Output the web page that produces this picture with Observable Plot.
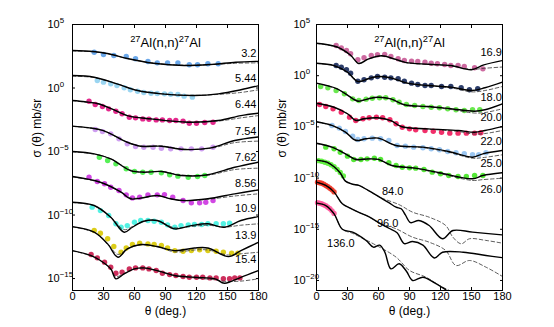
<!DOCTYPE html>
<html>
<head>
<meta charset="utf-8">
<script src="https://cdn.jsdelivr.net/npm/d3@7"></script>
<script src="https://cdn.jsdelivr.net/npm/@observablehq/plot@0.6"></script>
<style>
  html, body { margin: 0; padding: 0; background: #fff; }
  #chart { display: flex; width: 554px; height: 327px; }
</style>
</head>
<body>
<div id="chart"></div>
<script>
// ---- angles in degrees, cross sections as log10(sigma / mb/sr) ----
// LEFT PANEL
const L32 = { label: "3.2", color: "#5b9ee8",
  solidT: [0,20,35,53,78,108,135,158,180], solidL: [2.95,2.87,2.70,2.32,1.95,1.77,1.86,2.03,2.10],
  dashT:  [0,20,35,53,78,108,135,158,180], dashL:  [2.92,2.85,2.68,2.32,1.97,1.79,1.84,1.95,1.98],
  dataT: [21,30,40,52,61,73,82,92,102,113,121,131,141],
  dataL: [2.82,2.64,2.56,2.48,2.30,2.09,1.98,1.98,1.98,1.83,1.83,1.91,1.91] };
const L544 = { label: "5.44", color: "#8fd0f0",
  solidT: [0,21,43,63,86,118,141,163,180], solidL: [0.98,0.85,0.33,-0.20,-0.46,-0.59,-0.46,-0.14,0.18],
  dashT:  [0,21,43,63,86,118,141,163,180], dashL:  [0.93,0.82,0.33,-0.18,-0.44,-0.58,-0.50,-0.35,-0.14],
  dataT: [24,30,37,43,50,56,63,69,76,82,89,95,102,108,116],
  dataL: [0.59,0.46,0.33,0.20,0.02,-0.14,-0.25,-0.35,-0.41,-0.43,-0.46,-0.49,-0.51,-0.64,-0.72] };
const L644 = { label: "6.44", color: "#e0117f",
  solidT: [0,12,25,38,53,76,112,141,163,180], solidL: [-0.98,-1.08,-1.24,-1.64,-2.17,-2.43,-2.69,-2.56,-2.17,-1.98],
  dashT:  [0,12,25,38,53,76,112,141,163,180], dashL:  [-1.00,-1.10,-1.26,-1.64,-2.17,-2.43,-2.69,-2.60,-2.35,-2.17],
  dataT: [16,22,29,35,42,48,55,61,68,74,81,87,94,100,107,113,120,128,136],
  dataL: [-1.04,-1.30,-1.46,-1.64,-1.83,-2.03,-2.30,-2.35,-2.43,-2.46,-2.51,-2.51,-2.56,-2.56,-2.61,-2.77,-2.77,-2.72,-2.69] };
const L754 = { label: "7.54", color: "#c994ee",
  solidT: [0,15,30,53,66,86,108,134,157,180], solidL: [-3.00,-3.12,-3.35,-4.27,-4.58,-4.58,-4.84,-4.71,-4.13,-3.85],
  dashT:  [0,15,30,53,66,86,108,134,157,180], dashL:  [-3.02,-3.14,-3.37,-4.27,-4.56,-4.56,-4.82,-4.74,-4.30,-4.18],
  dataT: [22,29,37,45,53,61,69,78,86,95,105,115,125,136],
  dataL: [-3.27,-3.43,-3.61,-4.00,-4.39,-4.61,-4.66,-4.66,-4.74,-4.79,-4.79,-4.79,-4.79,-4.66] };
const L762 = { label: "7.62", color: "#44ee44",
  solidT: [0,21,37,56,69,86,105,131,157,180], solidL: [-5.00,-5.18,-5.57,-6.50,-6.63,-6.57,-6.89,-6.83,-6.24,-5.84],
  dashT:  [0,21,37,56,69,86,105,131,157,180], dashL:  [-5.03,-5.20,-5.57,-6.45,-6.60,-6.57,-6.85,-6.86,-6.42,-6.31],
  dataT: [26,34,42,52,60,68,76,86,94,102,112,121,128],
  dataL: [-5.45,-5.71,-5.97,-6.36,-6.57,-6.63,-6.63,-6.68,-6.83,-6.94,-7.02,-6.97,-6.89] };
const L856 = { label: "8.56", color: "#cc33e0",
  solidT: [0,27,47,56,66,82,95,108,131,157,180], solidL: [-6.97,-7.42,-8.20,-8.72,-8.67,-8.46,-8.72,-8.86,-8.72,-8.33,-8.02],
  dashT:  [0,27,47,56,66,82,95,108,131,157,180], dashL:  [-7.00,-7.44,-8.20,-8.65,-8.65,-8.48,-8.72,-8.86,-8.76,-8.50,-8.33],
  dataT: [16,24,31,37,45,52,58,65,73,82,89,97,107,115,123,129,136],
  dataL: [-7.02,-7.36,-7.54,-7.81,-8.07,-8.41,-8.65,-8.60,-8.41,-8.41,-8.39,-8.60,-8.86,-9.04,-9.04,-8.99,-8.86] };
const L109 = { label: "10.9", color: "#40f0e0",
  solidT: [0,21,37,50,58,69,82,99,115,131,147,163,180], solidL: [-8.99,-9.25,-10.17,-11.35,-10.96,-10.49,-10.43,-11.09,-10.83,-10.69,-10.96,-10.43,-10.12],
  dashT:  [0,21,37,50,58,69,82,99,115,131,147,163,180], dashL:  [-9.02,-9.27,-10.17,-11.15,-10.90,-10.49,-10.45,-11.00,-10.90,-10.80,-10.95,-10.80,-10.69],
  dataT: [19,27,35,42,47,53,60,66,73,79,86,92,99,105,112,118,125,131,139,146,152],
  dataL: [-9.38,-9.65,-10.04,-10.69,-10.96,-10.83,-10.57,-10.43,-10.43,-10.49,-10.57,-10.77,-10.96,-10.83,-10.77,-10.75,-10.75,-10.69,-10.69,-10.69,-10.64] };
const L139 = { label: "13.9", color: "#d8c800",
  solidT: [0,21,34,44,53,66,82,99,118,131,151,163,180], solidL: [-10.91,-11.35,-12.27,-13.32,-12.66,-12.32,-12.48,-12.80,-12.59,-12.59,-13.27,-12.80,-12.14],
  dashT:  [0,21,34,44,53,66,82,99,118,131,151,163,180], dashL:  [-10.94,-11.37,-12.27,-13.10,-12.66,-12.35,-12.50,-12.90,-12.75,-12.75,-13.15,-13.05,-12.93],
  dataT: [21,27,34,40,47,52,58,65,73,79,86,92,99,107,115,123,131,139,146,154,160],
  dataL: [-11.22,-11.43,-11.87,-12.48,-12.93,-12.59,-12.32,-12.22,-12.27,-12.32,-12.40,-12.59,-12.80,-12.85,-12.80,-12.74,-12.80,-12.85,-12.93,-13.01,-13.01] };
const L154 = { label: "15.4", color: "#c8184a",
  solidT: [0,18,27,37,42,50,60,69,82,99,118,138,147,163,180], solidL: [-12.80,-13.19,-13.58,-14.24,-15.02,-14.63,-14.24,-14.16,-14.37,-14.76,-14.90,-15.02,-15.37,-14.90,-14.37],
  dashT:  [0,18,27,37,42,50,60,69,82,99,118,138,147,163,180], dashL:  [-12.83,-13.20,-13.60,-14.24,-14.85,-14.60,-14.24,-14.18,-14.40,-14.80,-14.95,-15.10,-15.22,-15.20,-15.02],
  dataT: [18,24,31,37,42,48,55,61,68,74,81,87,94,100,107,113,120,126,133,139,146,152,157,162],
  dataL: [-13.11,-13.37,-13.71,-14.11,-14.58,-14.50,-14.24,-14.16,-14.16,-14.24,-14.37,-14.58,-14.69,-14.76,-14.84,-14.90,-14.90,-14.90,-14.95,-14.95,-15.02,-15.02,-14.95,-14.95] };

// RIGHT PANEL
const R169 = { label: "16.9", color: "#c85a96",
  solidT: [0,20,33,41,50,63,75,86,108,130,150,162,180], solidL: [3.17,2.80,2.00,1.18,1.62,1.95,1.65,1.30,1.12,0.99,0.58,1.05,1.48],
  dashT:  [0,20,33,41,50,63,75,86,108,130,150,162,180], dashL:  [3.15,2.78,2.00,1.25,1.62,1.93,1.63,1.28,1.10,0.95,0.62,0.72,0.85],
  dataT: [19,24,29,33,40,46,53,59,66,72,79,85,92,98,105,111,117,124,130,137,143,153,161],
  dataL: [2.95,2.72,2.46,2.14,1.55,1.75,1.97,2.04,2.07,1.88,1.65,1.48,1.42,1.39,1.32,1.22,1.16,1.09,0.99,0.99,0.90,0.77,0.67] };
const R180 = { label: "18.0", color: "#15285a",
  solidT: [0,17,30,40,50,59,72,88,108,130,150,163,180], solidL: [1.22,0.99,0.34,-0.57,-0.30,-0.08,-0.21,-0.73,-0.96,-1.12,-1.45,-1.18,-0.63],
  dashT:  [0,17,30,40,50,59,72,88,108,130,150,163,180], dashL:  [1.20,0.97,0.34,-0.50,-0.30,-0.10,-0.23,-0.75,-0.98,-1.18,-1.58,-1.45,-1.05],
  dataT: [19,24,29,33,40,46,53,59,66,72,79,85,92,98,105,111,121,130,140,148,156],
  dataL: [0.99,0.83,0.58,0.24,-0.54,-0.40,-0.21,-0.08,-0.15,-0.21,-0.30,-0.54,-0.73,-0.86,-0.96,-0.96,-1.05,-1.05,-1.18,-1.38,-1.28] };
const R200 = { label: "20.0", color: "#5ae63c",
  solidT: [0,20,30,40,50,59,72,85,108,130,153,163,180], solidL: [-0.73,-1.28,-1.90,-2.49,-2.26,-2.10,-2.26,-2.84,-3.01,-3.23,-3.47,-3.33,-2.74],
  dashT:  [0,20,30,40,50,59,72,85,108,130,153,163,180], dashL:  [-0.75,-1.30,-1.90,-2.42,-2.26,-2.12,-2.28,-2.86,-3.05,-3.30,-3.65,-3.60,-3.23],
  dataT: [4,11,19,27,35,41,48,54,61,67,74,80,87,95,103,111,119,127,135,143,151,158],
  dataL: [-1.05,-1.18,-1.45,-1.77,-2.26,-2.42,-2.29,-2.20,-2.16,-2.16,-2.35,-2.59,-2.81,-2.91,-3.01,-3.08,-3.13,-3.23,-3.33,-3.40,-3.33,-3.33] };
const R220 = { label: "22.0", color: "#f0185a",
  solidT: [0,17,30,38,46,59,72,82,108,137,153,163,180], solidL: [-2.69,-3.08,-3.72,-4.38,-4.21,-4.11,-4.38,-4.96,-5.19,-5.35,-5.52,-5.35,-4.96],
  dashT:  [0,17,30,38,46,59,72,82,108,137,153,163,180], dashL:  [-2.71,-3.10,-3.72,-4.30,-4.21,-4.13,-4.40,-4.98,-5.22,-5.45,-5.70,-5.65,-5.35],
  dataT: [3,9,16,24,32,38,45,51,58,64,71,77,83,90,96,105,113,121,129,137,145,153,159],
  dataL: [-2.81,-3.01,-3.23,-3.56,-4.05,-4.38,-4.21,-4.11,-4.05,-4.11,-4.31,-4.70,-5.03,-5.19,-5.28,-5.35,-5.42,-5.52,-5.61,-5.61,-5.61,-5.61,-5.58] };
const R250 = { label: "25.0", color: "#90c0f0",
  solidT: [0,15,28,38,48,60,77,103,128,151,161,180], solidL: [-4.50,-4.86,-5.52,-6.33,-6.16,-6.10,-6.82,-6.98,-7.40,-7.96,-7.63,-7.30],
  dashT:  [0,15,28,38,48,60,77,103,128,151,161,180], dashL:  [-4.52,-4.88,-5.52,-6.25,-6.16,-6.12,-6.84,-7.02,-7.48,-8.06,-8.00,-7.72],
  dataT: [15,22,28,35,40,46,54,62,70,78,86,94,103,111,119,127,135,143,151,157,164],
  dataL: [-4.86,-5.12,-5.45,-5.91,-6.23,-6.16,-6.10,-6.16,-6.33,-6.82,-6.88,-6.98,-7.04,-7.14,-7.24,-7.40,-7.53,-7.63,-7.72,-7.72,-7.53] };
const R260 = { label: "26.0", color: "#44e622",
  solidT: [0,15,28,38,51,60,73,96,119,151,161,180], solidL: [-6.60,-6.98,-7.63,-8.18,-8.12,-8.18,-8.77,-9.03,-9.48,-10.07,-9.75,-9.48],
  dashT:  [0,15,28,38,51,60,73,96,119,151,161,180], dashL:  [-6.62,-7.00,-7.63,-8.12,-8.12,-8.20,-8.79,-9.07,-9.55,-10.23,-10.15,-10.01],
  dataT: [9,17,23,30,36,43,49,56,62,70,77,83,90,96,104,112,120,128,137,145,153,161],
  dataL: [-6.98,-7.14,-7.47,-7.86,-8.18,-8.18,-8.12,-8.06,-8.18,-8.51,-8.77,-8.94,-9.00,-9.03,-9.16,-9.42,-9.58,-9.75,-9.84,-9.84,-9.75,-9.75] };
const R840 = { label: "84.0", color: "#55ee33",
  solidT: [0,10,17,23,28,35,41,50,61,70,77,82,86,91,99,109,122,132,151,180],
  solidL: [-8.25,-8.45,-8.90,-9.50,-10.30,-10.60,-10.72,-11.20,-11.86,-12.40,-12.84,-13.00,-13.60,-14.35,-14.14,-14.63,-15.93,-15.12,-15.28,-15.55],
  dashT:  [0,10,17,23,28,35,41,50,61,80,93,109,125,132,140,148,164,180],
  dashL:  [-8.25,-8.45,-8.90,-9.50,-10.30,-10.60,-10.72,-11.20,-11.86,-12.60,-13.33,-13.82,-14.63,-15.77,-16.42,-15.93,-16.09,-16.36],
  dataT: [2,5,8,11,14,17,20,23,26],
  dataL: [-8.30,-8.35,-8.45,-8.55,-8.70,-8.90,-9.15,-9.45,-9.80] };
const R960 = { label: "96.0", color: "#ee3322",
  solidT: [0,9,17,25,33,41,51,61,70,78,85,93,103,114,122,142,164,180],
  solidL: [-10.40,-10.72,-11.37,-12.51,-12.95,-13.35,-13.80,-14.40,-14.90,-15.35,-16.40,-16.20,-16.55,-17.80,-17.24,-17.24,-17.56,-17.78],
  dashT:  [0,9,17,25,33,41,51,61,77,93,109,125,135,148,164,180],
  dashL:  [-10.40,-10.72,-11.37,-12.51,-12.95,-13.35,-13.80,-14.40,-14.95,-15.77,-16.26,-17.07,-18.54,-18.05,-18.70,-19.61],
  dataT: [1,3,5,7,9,11,13,15,17],
  dataL: [-10.40,-10.45,-10.50,-10.60,-10.72,-10.85,-11.00,-11.15,-11.35] };
const R1360 = { label: "136.0", color: "#ff5599",
  solidT: [0,9,17,25,35,48,55,61,66,72,80,87,93,103,113,125],
  solidL: [-12.45,-12.68,-13.49,-15.00,-15.28,-16.09,-16.75,-16.55,-17.20,-18.86,-18.37,-19.10,-20.00,-19.68,-20.16,-20.90],
  dashT:  [0,9,17,25,35,45,58,77,90,106,119,129,140],
  dashL:  [-12.45,-12.68,-13.49,-15.00,-15.40,-15.90,-16.58,-17.72,-19.02,-19.68,-20.49,-21.00,-21.60],
  dataT: [1,3,5,7,9,11,13,15,17],
  dataL: [-12.40,-12.45,-12.50,-12.60,-12.70,-12.85,-13.00,-13.20,-13.45] };

// energy labels (angle, log10 sigma)
const leftLabelT = [178,178,178,178,178,178,178,178,178];
const leftLabelL = [2.72,0.77,-1.30,-3.43,-5.47,-7.52,-9.49,-11.61,-13.50];
const rightLabelT = [169,169,169,169,169,169,73.7,68.9,23.6];
const rightLabelL = [2.24,-2.10,-4.05,-6.40,-8.60,-11.11,-11.28,-14.40,-16.36];

const xTicks = [0,30,60,90,120,150,180];
const leftYTicks = [1e5,1e0,1e-5,1e-10,1e-15];
const rightYTicks = [1e5,1e0,1e-5,1e-10,1e-15,1e-20];
const titleText = "^{27}Al(n,n)^{27}Al";
const yLabel = "σ (θ) mb/sr";
const xLabel = "θ (deg.)";

const leftSeries = [L32,L544,L644,L754,L762,L856,L109,L139,L154];
const rightSeries = [R169,R180,R200,R220,R250,R260,R840,R960,R1360];

function lineRows(series, kind) {
  return series.flatMap(s => s[kind + "T"].map((t, i) => ({id: s.label, theta: t, sigma: Math.pow(10, s[kind + "L"][i])})));
}
function dotRows(series) {
  return series.flatMap(s => s.dataT.map((t, i) => ({id: s.label, color: s.color, theta: t, sigma: Math.pow(10, s.dataL[i])})));
}
function labelRows(series, T, Lg) {
  return series.map((s, i) => ({text: s.label, theta: T[i], sigma: Math.pow(10, Lg[i])}));
}

function supify(svg) {
  d3.select(svg).selectAll("text").each(function () {
    const t = this.textContent;
    if (!t.includes("^{")) return;
    const parts = t.split(/\^\{([^}]*)\}/);
    this.textContent = "";
    let raised = false;
    parts.forEach((p, i) => {
      if (!p) return;
      const ts = d3.select(this).append("tspan").text(p);
      if (i % 2 === 1) {
        ts.attr("dy", raised ? 0 : -5).attr("font-size", "0.72em");
        raised = true;
      } else if (raised) {
        ts.attr("dy", 5);
        raised = false;
      }
    });
  });
}

function panel(series, labT, labL, opts) {
  const plot = Plot.plot({
    width: opts.w, height: 327,
    marginLeft: opts.ml, marginRight: opts.mr, marginTop: 24, marginBottom: 37,
    style: {fontFamily: "'Liberation Sans', Arial, Helvetica, sans-serif", fontSize: "11px", background: "white", color: "black", overflow: "visible"},
    x: {domain: [0, 180]},
    y: {type: "log", domain: opts.yDomain},
    color: {type: "identity"},
    marks: [
      Plot.dot(dotRows(series), {x: "theta", y: "sigma", fill: "color", r: 2.7, fillOpacity: 0.9}),
      Plot.line(lineRows(series, "dash"), {x: "theta", y: "sigma", z: "id", stroke: "#333", strokeWidth: 0.8, strokeDasharray: "3.5,2.5", curve: "catmull-rom", clip: true}),
      Plot.line(lineRows(series, "solid"), {x: "theta", y: "sigma", z: "id", stroke: "black", strokeWidth: 1.4, curve: "catmull-rom", clip: true}),
      Plot.text(labelRows(series, labT, labL), {x: "theta", y: "sigma", text: "text", textAnchor: opts.labAnchor, fontSize: 11, fill: "black"}),
      Plot.frame({stroke: "black", strokeWidth: 1}),
      Plot.axisX({ticks: xTicks, anchor: "bottom", tickSize: -3, tickPadding: 5, label: null, fontSize: 11}),
      Plot.axisX({ticks: xTicks, anchor: "top", tickSize: -3, tickFormat: () => "", label: null}),
      Plot.axisY({ticks: opts.yTicks, anchor: "left", tickSize: -3, tickPadding: opts.tp, textAnchor: "start", fontSize: 11,
        tickFormat: v => "10^{" + String(Math.round(Math.log10(v))).replace("-", "−") + "}", label: null}),
      Plot.axisY({ticks: opts.yTicks, anchor: "right", tickSize: -3, tickFormat: () => "", label: null}),
      Plot.text([yLabel], {frameAnchor: "left", rotate: -90, dx: opts.ylx, fontSize: 12}),
      Plot.text([xLabel], {frameAnchor: "bottom", lineAnchor: "middle", dy: 21, fontSize: 12}),
      Plot.text([titleText], {frameAnchor: "top", dy: 13, fontSize: 13})
    ]
  });
  supify(plot);
  return plot;
}

const chart = document.getElementById("chart");
chart.append(panel(leftSeries, leftLabelT, leftLabelL,
  {w: 268, ml: 72, mr: 10, yDomain: [Math.pow(10, -15.94), 1e5], yTicks: leftYTicks, tp: 28, ylx: -35, labAnchor: "end"}));
chart.append(panel(rightSeries, rightLabelT, rightLabelL,
  {w: 286, ml: 48, mr: 52, yDomain: [Math.pow(10, -20.98), 1e5], yTicks: rightYTicks, tp: 26, ylx: -34, labAnchor: "middle"}));
</script>
</body>
</html>
